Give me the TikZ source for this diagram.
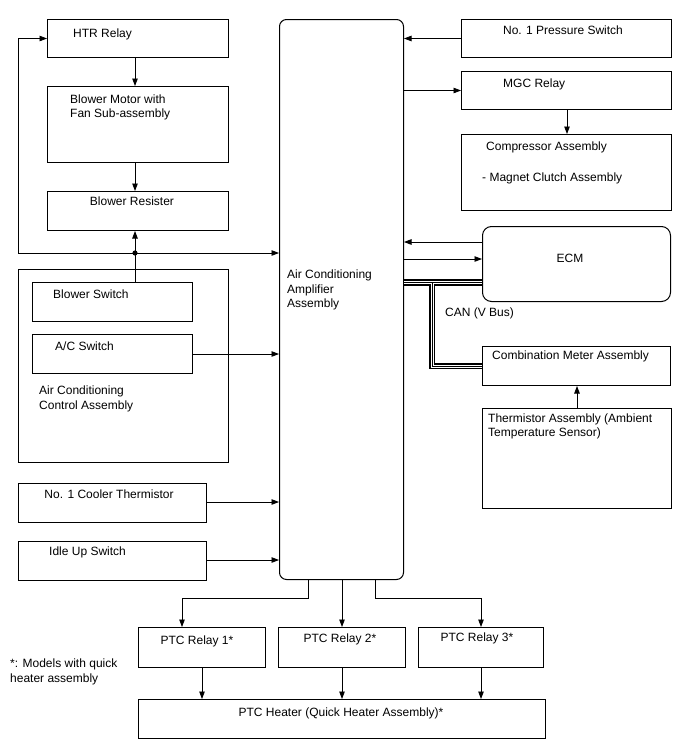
\documentclass[tikz,border=0pt]{standalone}
\usepackage{fontspec}
\setmainfont{Liberation Sans}
\usetikzlibrary{arrows.meta,calc}
\begin{document}
\begin{tikzpicture}[x=1pt,y=-1pt,
  box/.style={draw,line width=1pt,anchor=north west,inner sep=0pt},
  txt/.style={inner sep=0pt,font=\fontsize{12}{14.5}\selectfont,align=left},
  arr/.style={line width=0.8pt,-{Triangle[length=7.5pt,width=5.5pt]}},
  ln/.style={line width=0.8pt},
  busA/.style={line width=6.5pt,black},
  busB/.style={line width=3pt,white},
  busC/.style={line width=1pt,black}]
\useasboundingbox (0,0) rectangle (688,755);
\fill[white] (0,0) rectangle (688,755);

% ---------- left column ----------
\node[box,minimum width=181pt,minimum height=38pt] (htr) at (47,19) {};
\node[txt,anchor=west] (thtr) at (73,34) {HTR Relay};
\node[box,minimum width=181pt,minimum height=76pt] (blm) at (47,86) {};
\node[txt,anchor=west] (tblm) at (70,107.5) {Blower Motor with\\Fan Sub-assembly};
\node[box,minimum width=181pt,minimum height=39pt] (res) at (47,191) {};
\node[txt] (tres) at (132,201) {Blower Resister};

\node[box,minimum width=210pt,minimum height=193pt] (ctl) at (18,269) {};
\node[box,minimum width=160pt,minimum height=39pt] (bsw) at (32,282) {};
\node[txt,anchor=west] (tbsw) at (53,294) {Blower Switch};
\node[box,minimum width=160pt,minimum height=39pt] (acs) at (32,334) {};
\node[txt,anchor=west] (tacs) at (55,346) {A/C Switch};
\node[txt,anchor=west] (tctl) at (39,399) {Air Conditioning\\Control Assembly};

\node[box,minimum width=188pt,minimum height=39pt] (cth) at (18,483) {};
\node[txt] (tcth) at (109,494) {No. 1 Cooler Thermistor};
\node[box,minimum width=188pt,minimum height=39pt] (idl) at (18,541) {};
\node[txt,anchor=west] (tidl) at (49,552) {Idle Up Switch};

% ---------- amplifier ----------
\node[box,rounded corners=7pt,minimum width=124pt,minimum height=560pt] (amp) at (279,19) {};
\node[txt,anchor=west] (tamp) at (287,290) {Air Conditioning\\Amplifier\\Assembly};

% ---------- right column ----------
\node[box,minimum width=210pt,minimum height=38pt] (prs) at (461,19) {};
\node[txt] (tprs) at (563,30) {No. 1 Pressure Switch};
\node[box,minimum width=210pt,minimum height=38pt] (mgc) at (461,71) {};
\node[txt,anchor=west] (tmgc) at (503,84) {MGC Relay};
\node[box,minimum width=210pt,minimum height=76pt] (cmp) at (461,134) {};
\node[txt,anchor=west] (tcmp1) at (486,147) {Compressor Assembly};
\node[txt,anchor=west] (tcmp2) at (482,178) {- Magnet Clutch Assembly};

\node[box,rounded corners=9pt,minimum width=188pt,minimum height=75pt] (ecm) at (482,226) {};
\node[txt] (tecm) at (570,258) {ECM};
\node[txt,anchor=west] (tcan) at (445,313) {CAN (V Bus)};
\node[box,minimum width=188pt,minimum height=39pt] (met) at (482,346) {};
\node[txt,anchor=west] (tmet) at (492,356) {Combination Meter Assembly};
\node[box,minimum width=189pt,minimum height=100pt] (tha) at (482,408) {};
\node[txt,anchor=west] (ttha) at (488,426.5) {Thermistor Assembly (Ambient\\Temperature Sensor)};

% ---------- bottom ----------
\node[box,minimum width=127pt,minimum height=40pt] (p1) at (138,627) {};
\node[txt] (tp1) at (197,641) {PTC Relay 1*};
\node[box,minimum width=127pt,minimum height=40pt] (p2) at (278,627) {};
\node[txt] (tp2) at (340,639) {PTC Relay 2*};
\node[box,minimum width=125pt,minimum height=40pt] (p3) at (418,627) {};
\node[txt] (tp3) at (477,638) {PTC Relay 3*};
\node[box,minimum width=407pt,minimum height=39pt] (htrq) at (138,699) {};
\node[txt] (thtrq) at (341,713) {PTC Heater (Quick Heater Assembly)*};
\node[txt,anchor=west] (tnote) at (10,672) {*: Models with quick\\heater assembly};

% ---------- connectors left ----------
\coordinate (j) at (135,253);
\coordinate (lc) at (18,253);
\draw[arr] (htr.south -| j) -- (blm.north -| j);
\draw[arr] (blm.south -| j) -- (res.north -| j);
\draw[arr] (bsw.north -| j) -- (res.south -| j);
\draw[arr] (j) -- (lc) |- (htr.west);
\draw[arr] (j) -- (amp.west |- j);
\fill (j) circle (2.6pt);
\draw[arr] (acs.east) -- (amp.west |- acs.east);
\draw[arr] (cth.east |- 0,502) -- (amp.west |- 0,502);
\draw[arr] (idl.east |- 0,560) -- (amp.west |- 0,560);

% ---------- connectors right ----------
\draw[arr] (prs.west) -- (amp.east |- prs.west);
\draw[arr] (amp.east |- mgc.west) -- (mgc.west);
\draw[arr] (mgc.south -| 567,0) -- (cmp.north -| 567,0);
\draw[arr] (ecm.west |- 0,242) -- (amp.east |- 0,242);
\draw[arr] (amp.east |- 0,259) -- (ecm.west |- 0,259);
\draw[arr] (tha.north -| 577,0) -- (met.south -| 577,0);

% CAN bus
\coordinate (bt) at (432,282.5);
\foreach \s in {busA,busB,busC}{
  \draw[\s] (amp.east |- bt) -- (ecm.west |- bt);
  \draw[\s] (bt) |- (met.west);
}

% ---------- connectors bottom ----------
\draw[arr] (amp.south -| 308,0) -- (308,598) -| (p1.north -| 182,0);
\draw[arr] (amp.south -| p2.north) -- (p2.north);
\draw[arr] (amp.south -| 375,0) -- (375,598) -| (p3.north);
\draw[arr] (p1.south -| 202,0) -- (htrq.north -| 202,0);
\draw[arr] (p2.south) -- (htrq.north -| p2.south);
\draw[arr] (p3.south) -- (htrq.north -| p3.south);
\end{tikzpicture}
\end{document}
